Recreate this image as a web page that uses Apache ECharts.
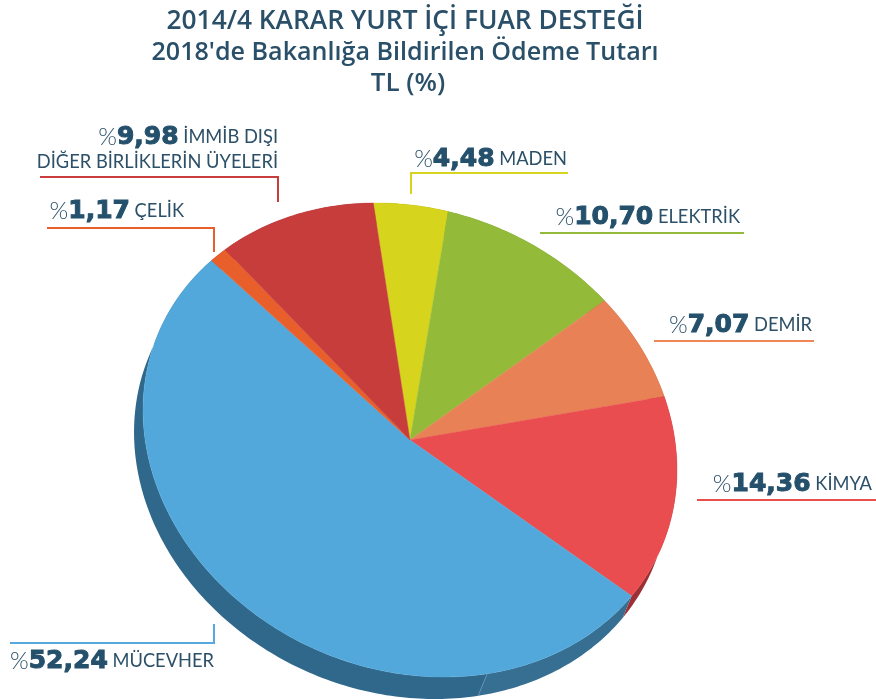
<!DOCTYPE html>
<html>
<head>
<meta charset="utf-8">
<style>
  html, body { margin: 0; padding: 0; background: #fff; }
  #chart { width: 876px; height: 699px; }
</style>
<script src="https://cdn.jsdelivr.net/npm/echarts@6/dist/echarts.min.js"></script>
</head>
<body>
<div id="chart"></div>
<script>
const titleLines = ['2014/4 KARAR YURT İÇİ FUAR DESTEĞİ', "2018'de Bakanlığa Bildirilen Ödeme Tutarı", 'TL (%)'];

// clockwise, starting with the yellow slice at the top
const sliceNames = ['MADEN', 'ELEKTRİK', 'DEMİR', 'KİMYA', 'MÜCEVHER', 'ÇELİK', 'İMMİB DIŞI\nDİĞER BİRLİKLERİN ÜYELERİ'];
const sliceValues = [4.48, 10.70, 7.07, 14.36, 52.24, 1.17, 9.98];

const sliceColors = ['#d6d41d', '#93bb39', '#e98156', '#e94d4f', '#53a8db', '#e85f2c', '#c73d3c'];
const wallColors = ['#8f8e14', '#617c26', '#9c5639', '#9d3034', '#376f92', '#9c3f1d', '#852928'];
const lineColors = ['#d6d41d', '#93bb39', '#f08556', '#ea4d4e', '#55a9dc', '#e95f2c', '#c93d3c'];

// leader lines and label anchors (right end of the text, bottom of the last line)
const leaders = [
  [[411, 194], [411, 173], [568, 173]],
  [[540, 233], [744, 233]],
  [[654, 341], [814, 341]],
  [[697, 500], [876, 500]],
  [[10, 643], [214, 643], [214, 624]],
  [[47, 228], [214, 228], [214, 252]],
  [[40, 177], [278, 177], [278, 202]]
];
const labelAnchors = [[567, 172], [740, 230], [812, 338], [872, 497], [214, 674], [184, 224], [278, 174]];

// the pie is a circle seen at an angle: unit circle -> screen
const cx = 410, cy = 440;
const tilt = [266.5, 15.87, 15.87, 236.5];
const depth = [-9, 22];
const startDeg = -4.5;
const seamDeg = 166.6;

const total = sliceValues.reduce((a, b) => a + b, 0);
const sliceStart = [];
sliceValues.reduce((acc, v, i) => {
  sliceStart[i] = acc;
  return acc + v / total * 360;
}, startDeg);

function rimPoint(deg, off) {
  const r = deg * Math.PI / 180;
  const ux = Math.sin(r), uy = -Math.cos(r);
  return [
    cx + tilt[0] * ux + tilt[1] * uy + (off ? depth[0] : 0),
    cy + tilt[2] * ux + tilt[3] * uy + (off ? depth[1] : 0)
  ];
}

function rimArc(a0, a1, off) {
  const n = Math.max(2, Math.ceil(Math.abs(a1 - a0)));
  const pts = [];
  for (let k = 0; k <= n; k++) pts.push(rimPoint(a0 + (a1 - a0) * k / n, off));
  return pts;
}

function wallShape(a0, a1) {
  return rimArc(a0, a1, false).concat(rimArc(a1, a0, true));
}

function renderWall(params, api) {
  const i = params.dataIndex;
  const a0 = sliceStart[i];
  const a1 = a0 + api.value(0) / total * 360;
  const color = wallColors[i];
  if (a0 < seamDeg && a1 > seamDeg) {
    // the side of the big slice is two panels, the left one a bit darker
    return {
      type: 'group',
      children: [
        { type: 'polygon', shape: { points: wallShape(a0, seamDeg) }, style: { fill: color } },
        { type: 'polygon', shape: { points: wallShape(seamDeg, a1) }, style: { fill: '#30688c' } },
        { type: 'line', shape: { x1: rimPoint(seamDeg)[0], y1: rimPoint(seamDeg)[1], x2: rimPoint(seamDeg, true)[0], y2: rimPoint(seamDeg, true)[1] }, style: { stroke: '#5f90ae', lineWidth: 1 } }
      ]
    };
  }
  return { type: 'polygon', shape: { points: wallShape(a0, a1) }, style: { fill: color } };
}

function renderTop(params, api) {
  const i = params.dataIndex;
  const a0 = sliceStart[i];
  const a1 = a0 + api.value(0) / total * 360;
  return {
    type: 'polygon',
    shape: { points: [[cx, cy]].concat(rimArc(a0, a1, false)) },
    style: { fill: sliceColors[i], stroke: sliceColors[i], lineWidth: 0.4 }
  };
}

function labelText(i) {
  const parts = sliceNames[i].split('\n');
  const head = '{p|%}{v|' + sliceValues[i].toFixed(2).replace('.', ',') + '}{n| ' + parts[0] + '}';
  return parts[1] ? head + '\n{n|' + parts[1] + '}' : head;
}

const labelRich = {
  p: { fontFamily: 'Lato', fontWeight: 300, fontSize: 24, fill: '#2c5068', lineHeight: 26 },
  v: { fontFamily: 'DejaVu Sans', fontWeight: 'bold', fontSize: 25, fill: '#24506c', stroke: '#24506c', lineWidth: 1, lineHeight: 26 },
  n: { fontFamily: 'Lato', fontSize: 18.3, fill: '#2c5068', lineHeight: 24 }
};

const titleLine = { fontFamily: 'Open Sans', fontWeight: 600, lineHeight: 31, color: '#2a4f68' };

const chart = echarts.init(document.getElementById('chart'), null, { renderer: 'canvas' });
chart.setOption({
  backgroundColor: '#fff',
  animation: false,
  title: {
    text: '{a|' + titleLines[0] + '}\n{b|' + titleLines[1] + '}\n{c|' + titleLines[2] + '}',
    left: 400,
    top: 1,
    textAlign: 'center',
    textStyle: {
      rich: {
        a: Object.assign({ fontSize: 26.3 }, titleLine),
        b: Object.assign({ fontSize: 25.1 }, titleLine),
        c: Object.assign({ fontSize: 26, padding: [0, 0, 0, 6] }, titleLine)
      }
    }
  },
  graphic: leaders.map((pts, i) => ({
    type: 'polyline',
    silent: true,
    shape: { points: pts },
    style: { stroke: lineColors[i], lineWidth: 2, fill: null }
  })).concat(labelAnchors.map((p, i) => ({
    type: 'text',
    silent: true,
    x: p[0],
    y: p[1],
    style: { text: labelText(i), rich: labelRich, align: 'right', verticalAlign: 'bottom' }
  }))),
  series: [
    { type: 'custom', coordinateSystem: 'none', silent: true, z: 1, renderItem: renderWall, data: sliceValues },
    { type: 'custom', coordinateSystem: 'none', silent: true, z: 2, renderItem: renderTop, data: sliceValues }
  ]
});
</script>
</body>
</html>
